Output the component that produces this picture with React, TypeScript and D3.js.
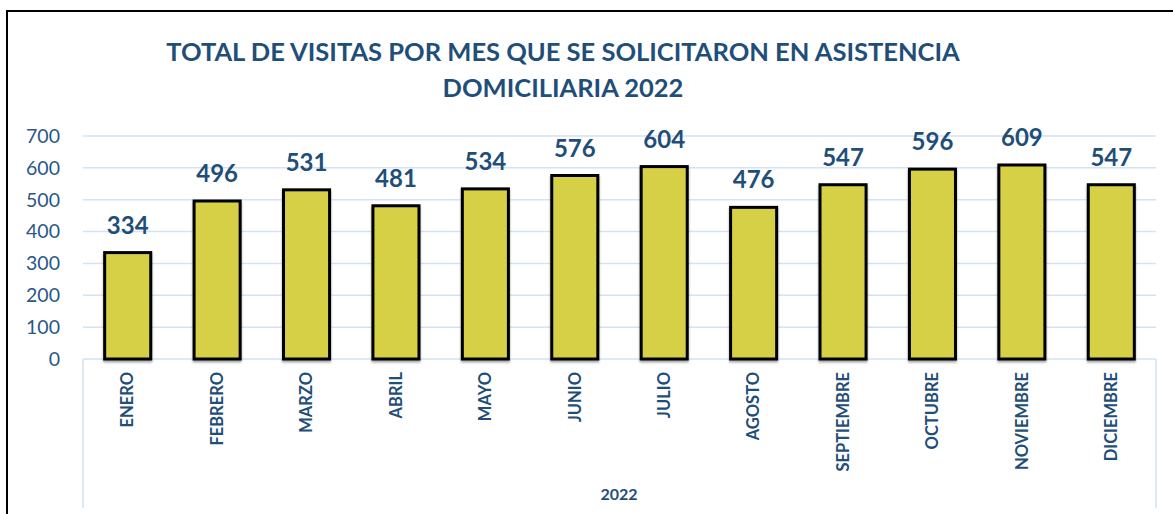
import React, { useRef, useEffect } from 'react';
import * as d3 from 'd3';

const months = [
  'ENERO', 'FEBRERO', 'MARZO', 'ABRIL', 'MAYO', 'JUNIO',
  'JULIO', 'AGOSTO', 'SEPTIEMBRE', 'OCTUBRE', 'NOVIEMBRE', 'DICIEMBRE',
];
const visits = [334, 496, 531, 481, 534, 576, 604, 476, 547, 596, 609, 547];
const yTicks = [0, 100, 200, 300, 400, 500, 600, 700];
const titleLines = [
  'TOTAL DE VISITAS POR MES QUE SE SOLICITARON EN ASISTENCIA',
  'DOMICILIARIA 2022',
];
const yearLabel = '2022';

const BLUE = '#1f4e79';
const FONT = 'Lato, "Open Sans", sans-serif';

const BarChart = () => {
  const ref = useRef<SVGSVGElement>(null);

  useEffect(() => {
    const svg = d3.select(ref.current);
    svg.selectAll('*').remove();

    const left = 83;
    const right = 1156;
    const top = 136;
    const bottom = 359;

    // outer frame
    svg
      .append('rect')
      .attr('x', 7)
      .attr('y', 11)
      .attr('width', 1200)
      .attr('height', 600)
      .attr('fill', 'white')
      .attr('stroke', 'black')
      .attr('stroke-width', 2);

    const defs = svg.append('defs');
    const f = defs.append('filter').attr('id', 'shadow').attr('x', '-20%').attr('y', '-20%').attr('width', '140%').attr('height', '140%');
    f.append('feDropShadow')
      .attr('dx', 0)
      .attr('dy', 2)
      .attr('stdDeviation', 1.2)
      .attr('flood-color', '#000')
      .attr('flood-opacity', 0.35);

    // title
    svg
      .append('g')
      .selectAll('text')
      .data(titleLines)
      .enter()
      .append('text')
      .attr('x', 563)
      .attr('y', (d, i) => 61 + i * 36)
      .attr('text-anchor', 'middle')
      .attr('font-family', FONT)
      .attr('font-weight', 'bold')
      .attr('font-size', '25.5px')
      .attr('fill', BLUE)
      .text((d) => d);

    const x = d3
      .scaleBand()
      .domain(months)
      .range([left, right])
      .paddingInner(0.485)
      .paddingOuter(0.2425);

    const y = d3.scaleLinear().domain([0, 700]).range([bottom, top]);

    // gridlines
    svg
      .append('g')
      .selectAll('line')
      .data(yTicks.filter((t) => t > 0))
      .enter()
      .append('line')
      .attr('x1', left)
      .attr('x2', right)
      .attr('y1', (d) => y(d))
      .attr('y2', (d) => y(d))
      .attr('stroke', '#d5e2f3')
      .attr('stroke-width', 1.5);

    // y tick labels
    svg
      .append('g')
      .selectAll('text')
      .data(yTicks)
      .enter()
      .append('text')
      .attr('x', 60)
      .attr('y', (d) => y(d))
      .attr('dy', '0.35em')
      .attr('text-anchor', 'end')
      .attr('font-family', FONT)
      .attr('font-size', '19.5px')
      .attr('fill', '#2a5788')
      .text((d) => d);

    // category axis frame
    const axisColor = '#d5e2f3';
    svg.append('line').attr('x1', left).attr('x2', right).attr('y1', bottom).attr('y2', bottom)
      .attr('stroke', axisColor).attr('stroke-width', 1.5);
    [left, right].forEach((xx) => {
      svg.append('line').attr('x1', xx).attr('x2', xx).attr('y1', bottom).attr('y2', 508)
        .attr('stroke', axisColor).attr('stroke-width', 1.5);
    });

    // bars
    svg
      .append('g')
      .selectAll('rect')
      .data(visits)
      .enter()
      .append('rect')
      .attr('x', (d, i) => x(months[i]) as number)
      .attr('y', (d) => y(d))
      .attr('width', x.bandwidth())
      .attr('height', (d) => bottom - y(d))
      .attr('fill', '#d6d047')
      .attr('stroke', 'black')
      .attr('stroke-width', 3)
      .attr('filter', 'url(#shadow)');

    // value labels
    svg
      .append('g')
      .selectAll('text')
      .data(visits)
      .enter()
      .append('text')
      .attr('x', (d, i) => (x(months[i]) as number) + x.bandwidth() / 2)
      .attr('y', (d) => y(d) - 19)
      .attr('text-anchor', 'middle')
      .attr('font-family', FONT)
      .attr('font-weight', 'bold')
      .attr('font-size', '24px')
      .attr('fill', BLUE)
      .text((d) => d);

    // month labels
    svg
      .append('g')
      .selectAll('text')
      .data(months)
      .enter()
      .append('text')
      .attr('transform', (d) => `translate(${(x(d) as number) + x.bandwidth() / 2},372) rotate(-90)`)
      .attr('dy', '0.35em')
      .attr('text-anchor', 'end')
      .attr('font-family', FONT)
      .attr('font-weight', 'bold')
      .attr('font-size', '16.5px')
      .attr('fill', BLUE)
      .text((d) => d);

    svg
      .append('text')
      .attr('x', 619)
      .attr('y', 500)
      .attr('text-anchor', 'middle')
      .attr('font-family', FONT)
      .attr('font-weight', 'bold')
      .attr('font-size', '16px')
      .attr('fill', BLUE)
      .text(yearLabel);
  }, []);

  return <svg ref={ref} width={1173} height={514} style={{ display: 'block' }}></svg>;
};

export default function App() {
  return (
    <div style={{ position: 'fixed', left: 0, top: 0, width: 1173, height: 514, background: 'white' }}>
      <BarChart />
    </div>
  );
}
